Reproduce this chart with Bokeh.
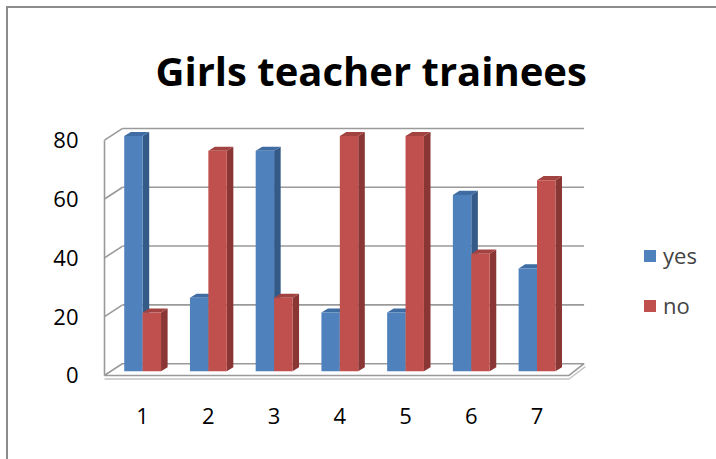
from bokeh.plotting import figure
from bokeh.models import Range1d, Legend, LegendItem, FixedTicker, ColumnDataSource
from bokeh.embed import file_html
from bokeh.resources import INLINE

# ---- data ----
categories = ["1", "2", "3", "4", "5", "6", "7"]
yes = [80, 25, 75, 20, 20, 60, 35]
no = [20, 75, 25, 80, 80, 40, 65]
y_ticks = [0, 20, 40, 60, 80]
series_names = ["yes", "no"]

# ---- styling constants (3D look) ----
BW = 0.28     # bar width (x units)
DX = 0.10     # bar depth in x
DY = 1.4      # bar depth in y
BASE = 1.4    # bars stand slightly behind the front edge of the floor
WX = 0.275    # wall depth in x
WY = 4.0      # wall depth in y
FONT = "Open Sans"
GRID = "#9a9a9a"

xs = list(range(1, len(categories) + 1))
n = len(categories)
ymax = y_ticks[-1]

p = figure(width=710, height=453, output_backend="svg", toolbar_location=None,
           x_range=Range1d(0.359, 9.761), y_range=Range1d(-4.1, 88.4),
           min_border_left=92, min_border_right=0, min_border_top=107,
           min_border_bottom=74, outline_line_color=None,
           styles={"border-left": "2px solid #8c8c8c", "border-top": "2px solid #8c8c8c",
                   "margin-left": "6px", "margin-top": "6px"})
p.xgrid.visible = False
p.ygrid.visible = False

# title
p.title.text = "Girls teacher trainees"
p.title.text_font = FONT
p.title.text_font_size = "40px"
p.title.text_font_style = "bold"
p.title.text_color = "black"
p.title.align = "left"
p.title.offset = 55
p.title.standoff = 35

# ---- walls / floor ----
wl = 1 - 0.58          # front-left x of box
wb = wl + WX           # back-left x
wr_front = n + 0.487   # front-right x of floor
wr_back = n + 0.716    # back-right x of floor/wall

# back wall gridlines
p.multi_line(xs=[[wb, wr_back] for _ in y_ticks],
             ys=[[v + WY, v + WY] for v in y_ticks], line_color=GRID, line_width=1.6)
# side wall diagonals
p.multi_line(xs=[[wl, wb] for _ in y_ticks],
             ys=[[v, v + WY] for v in y_ticks], line_color=GRID, line_width=1.6)
# side wall front vertical edge
p.line(x=[wl, wl], y=[0, ymax], line_color=GRID, line_width=1.6)
# floor slab
p.patch(x=[wl, wr_front, wr_back, wb], y=[0, 0, WY, WY], fill_color="white",
        line_color=GRID, line_width=1.6)
p.line(x=[wl, wr_front, wr_back + 0.02], y=[-1.2, -1.2, WY - 1.0], line_color="#c4c4c4", line_width=1.4)


def bar_source(vals, offset):
    left = [x + offset for x in xs]
    right = [l + BW for l in left]
    top = [v + BASE for v in vals]
    return ColumnDataSource(dict(
        left=left, right=right, bottom=[BASE] * len(vals), top=top,
        side_xs=[[r, r + DX, r + DX, r] for r in right],
        side_ys=[[BASE, BASE + DY, t + DY, t] for t in top],
        top_xs=[[l, r, r + DX, l + DX] for l, r in zip(left, right)],
        top_ys=[[t, t, t + DY, t + DY] for t in top],
    ))


renderers = []
for vals, offset, front, side, topc in [
        (yes, -BW, "#4F81BD", "#345A88", "#3E6CA3"),
        (no, 0.0, "#C0504D", "#8A3634", "#A34341")]:
    src = bar_source(vals, offset)
    p.patches(xs="side_xs", ys="side_ys", source=src, fill_color=side, line_color=None)
    p.patches(xs="top_xs", ys="top_ys", source=src, fill_color=topc, line_color=None)
    r = p.quad(left="left", right="right", bottom="bottom", top="top", source=src,
               fill_color=front, line_color=None)
    renderers.append(r)

# ---- axes ----
p.xaxis.ticker = FixedTicker(ticks=xs)
p.xaxis.major_label_overrides = {x: c for x, c in zip(xs, categories)}
p.yaxis.ticker = FixedTicker(ticks=y_ticks)
for ax in (p.xaxis[0], p.yaxis[0]):
    ax.axis_line_color = None
    ax.major_tick_line_color = None
    ax.minor_tick_line_color = None
    ax.major_tick_out = 0
    ax.major_tick_in = 0
    ax.major_label_text_font = FONT
    ax.major_label_text_font_size = "22px"
    ax.major_label_text_color = "black"
p.xaxis.major_label_standoff = 20
p.yaxis.major_label_standoff = 22

# ---- legend ----
legend = Legend(items=[LegendItem(label=s, renderers=[r]) for s, r in zip(series_names, renderers)],
                location=(542, 67), orientation="vertical",
                glyph_width=15, glyph_height=15, label_standoff=6,
                label_text_font=FONT, label_text_font_size="22px", label_height=22,
                spacing=20, padding=0, margin=0,
                border_line_color=None, background_fill_alpha=0)
p.add_layout(legend, "center")

open("out.html", "w").write(file_html(p, INLINE))
